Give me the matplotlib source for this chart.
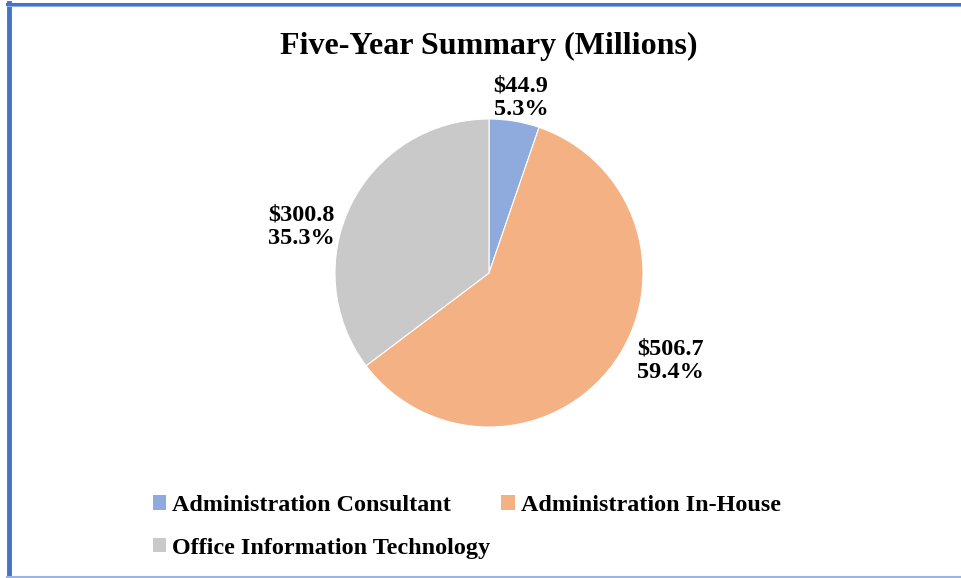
import matplotlib
matplotlib.use('Agg')
import matplotlib.pyplot as plt
from matplotlib.lines import Line2D
from matplotlib.patches import Patch

# Chart data
categories = ['Administration Consultant', 'Administration In-House', 'Office Information Technology']
values = [44.9, 506.7, 300.8]
percents = ['5.3%', '59.4%', '35.3%']
colors = ['#8FAADC', '#F4B183', '#C9C9C9']

plt.rcParams['font.family'] = ['Liberation Serif', 'DejaVu Serif']
plt.rcParams['font.weight'] = 'bold'

fig = plt.figure(figsize=(9.61, 5.78), dpi=100)
W, H = 961, 578

# frame lines like the original screenshot
fig.add_artist(Line2D([9 / W, 9 / W], [0, 1 - 3 / H], transform=fig.transFigure, color='#4472C4', lw=3.5))
fig.add_artist(Line2D([7 / W, 1], [1 - 4 / H, 1 - 4 / H], transform=fig.transFigure, color='#4472C4', lw=2.2))
fig.add_artist(Line2D([7 / W, 1], [1 - 5.5 / H, 1 - 5.5 / H], transform=fig.transFigure, color='#8FAADC', lw=0.8))
fig.add_artist(Line2D([7 / W, 1], [1.5 / H, 1.5 / H], transform=fig.transFigure, color='#9DB3E0', lw=1.5))

fig.text(489 / W, 1 - 46 / H, 'Five-Year Summary (Millions)', ha='center', va='center',
         fontsize=23, fontweight='bold')

# pie axes: centre (489, 273), radius 154 px
ax = fig.add_axes([(489 - 154) / W, (578 - 427) / H, 308 / W, 308 / H])
wedges, _ = ax.pie(values, colors=colors, startangle=90, counterclock=False,
                   wedgeprops=dict(linewidth=0.8, edgecolor='white'))
ax.set_xlim(-1, 1)
ax.set_ylim(-1, 1)
ax.set_aspect('equal')

# data labels
label_pos = [(0.03, 1.14, 'left'), (0.96, -0.57, 'left'), (-1.22, 0.30, 'center')]
for v, p, (x, y, ha) in zip(values, percents, label_pos):
    ax.text(x, y, f'${v:.1f}\n{p}', ha=ha, va='center', fontsize=17.5,
            fontweight='bold', linespacing=1.15, clip_on=False)

# legend, row-wise order
handles = [Patch(facecolor=c, edgecolor='none') for c in colors]
order = [0, 2, 1]
fig.legend([handles[i] for i in order], [categories[i] for i in order],
           loc='upper left', bbox_to_anchor=(153 / W, 1 - 495 / H), ncol=2,
           frameon=False, handlelength=0.55, handleheight=0.55,
           handletextpad=0.25, columnspacing=0.45, labelspacing=0.9,
           borderpad=0, borderaxespad=0,
           prop={'weight': 'bold', 'size': 17.4})

plt.savefig('out.png', dpi=100)
plt.close()
